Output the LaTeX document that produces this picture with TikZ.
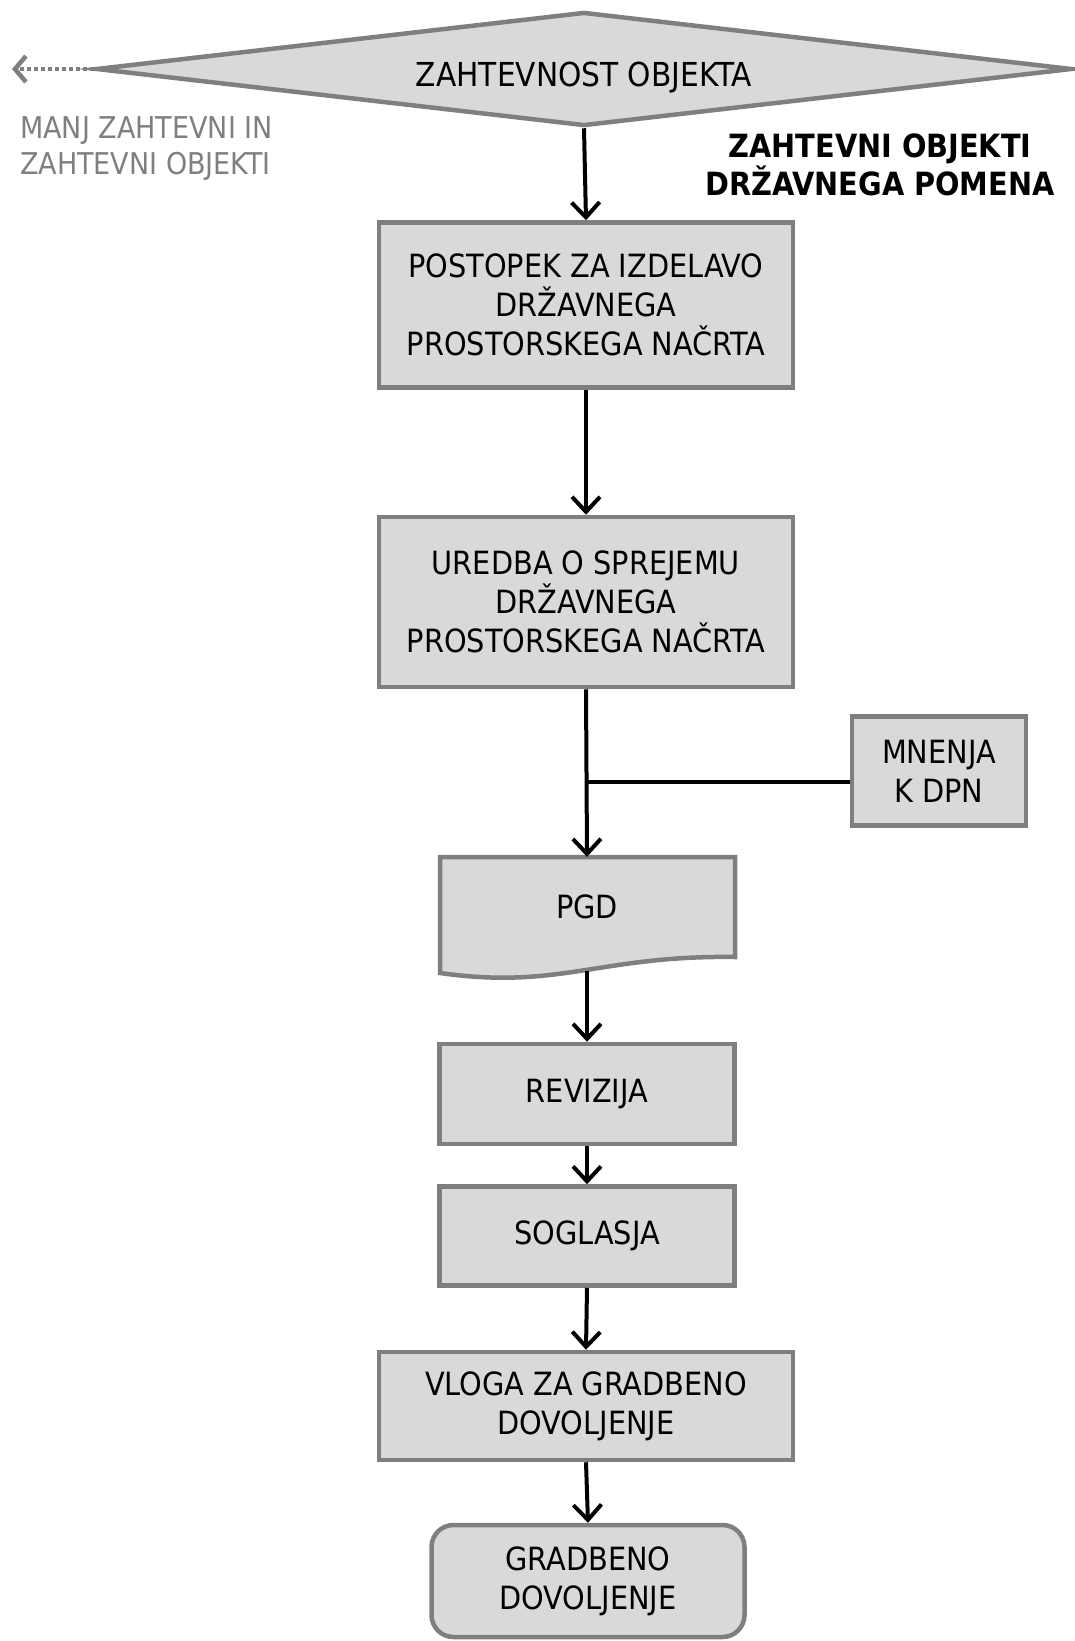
\documentclass[tikz,border=0pt]{standalone}
\usepackage{fontspec}
\setmainfont{DejaVu Sans Condensed}
\usetikzlibrary{shapes.geometric, arrows.meta, positioning, calc}
\definecolor{polnilo}{RGB}{217, 217, 217}
\definecolor{rob}{RGB}{127, 127, 127}

\begin{document}
\begin{tikzpicture}[x=1pt, y=-1pt,
    korak/.style={rectangle, draw=rob, fill=polnilo, line width=4.5pt, align=center, inner sep=0pt, font=\fontsize{32}{39}\selectfont},
    puscica/.style={line width=4pt, -{Straight Barb[length=15pt, width=28pt]}}]
    \useasboundingbox (0,0) rectangle (1074,1641);

    % odlocitev
    \node[diamond, draw=rob, fill=polnilo, line width=4.5pt, aspect=8.6, minimum width=976pt, minimum height=114pt, inner sep=0pt, font=\fontsize{33}{38}\selectfont] (zahtevnost) at (584,69) {\raisebox{-17pt}[0pt][0pt]{ZAHTEVNOST OBJEKTA}};
    \coordinate (levo) at (12,69);
    \draw[rob, line width=4.5pt, dash pattern=on 4pt off 3pt, -{Straight Barb[length=11pt, width=26pt]}] (zahtevnost.west) -- (levo);
    \node[rob, anchor=west, align=left, inner sep=0pt, font=\fontsize{30}{36}\selectfont] (manj) at (20,149) {MANJ ZAHTEVNI IN\\ZAHTEVNI OBJEKTI};
    \node[align=center, inner sep=0pt, font=\fontsize{32}{38}\selectfont\bfseries] (drzavni) at (880,165) {ZAHTEVNI OBJEKTI\\DRŽAVNEGA POMENA};

    % koraki
    \node[korak, minimum width=414pt, minimum height=165pt] (postopek) at (586,305) {POSTOPEK ZA IZDELAVO\\DRŽAVNEGA\\PROSTORSKEGA NAČRTA};
    \node[korak, minimum width=414pt, minimum height=170pt] (uredba) at (586,602) {UREDBA O SPREJEMU\\DRŽAVNEGA\\PROSTORSKEGA NAČRTA};
    \node[korak, minimum width=174pt, minimum height=109pt] (mnenja) at (939,771) {MNENJA\\K DPN};
    \draw[draw=rob, fill=polnilo, line width=4.5pt] (440,857) -- (735,857) -- (735,957) .. controls (600,955) and (560,990) .. (440,973) -- cycle;
    \node[align=center, inner sep=0pt, minimum width=295pt, minimum height=100pt, font=\fontsize{32}{39}\selectfont] (pgd) at (587,907) {PGD};
    \coordinate (pgdizhod) at (587,971);
    \node[korak, minimum width=295pt, minimum height=100pt] (revizija) at (587,1094) {REVIZIJA};
    \node[korak, minimum width=295pt, minimum height=99pt] (soglasja) at (587,1236) {SOGLASJA};
    \node[korak, minimum width=414pt, minimum height=108pt] (vloga) at (586,1406) {VLOGA ZA GRADBENO\\DOVOLJENJE};
    \node[korak, rounded corners=22pt, minimum width=313pt, minimum height=112pt] (dovoljenje) at (588,1581) {GRADBENO\\DOVOLJENJE};

    % povezave
    \draw[puscica] (zahtevnost.south) -- (postopek.north);
    \draw[puscica] (postopek.south) -- (uredba.north);
    \draw[puscica] (uredba.south) -- (pgd.north);
    \draw[line width=4pt] ([yshift=-11pt]mnenja.west) -- ([yshift=-11pt]mnenja.west -| uredba.south);
    \draw[puscica] (pgdizhod) -- (revizija.north);
    \draw[puscica] (revizija.south) -- (soglasja.north);
    \draw[puscica] (soglasja.south) -- (vloga.north);
    \draw[puscica] (vloga.south) -- (dovoljenje.north);
\end{tikzpicture}
\end{document}
